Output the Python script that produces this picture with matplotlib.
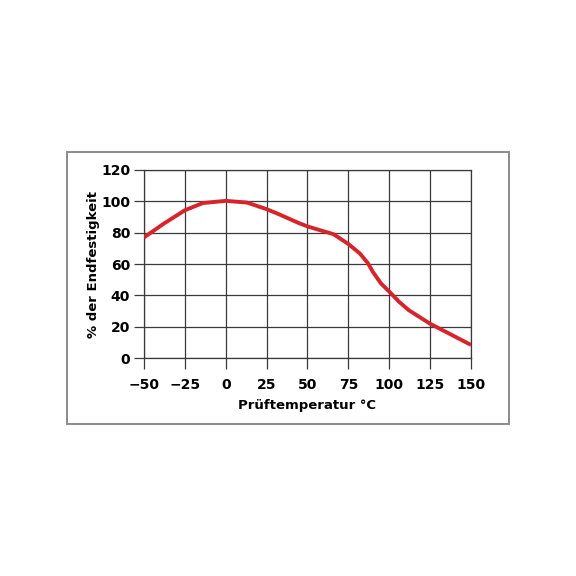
import matplotlib.pyplot as plt
from matplotlib.patches import Rectangle

# Festigkeit in Abhängigkeit der Prüftemperatur
temp = [-50, -38, -25, -14, 0, 13, 25, 32, 45, 50, 66, 75, 82, 87, 90, 95, 100, 106, 112, 125, 138, 150]
festigkeit = [77, 85.7, 94.3, 98.9, 100.3, 99.2, 95, 92, 86, 84, 79, 72.8, 66.8, 60.5, 55, 47.6, 42.5, 36, 30.6, 22, 15, 8.5]

x_ticks = [-50, -25, 0, 25, 50, 75, 100, 125, 150]
y_ticks = [0, 20, 40, 60, 80, 100, 120]

plt.rcParams['font.family'] = ['DejaVu Sans']
plt.rcParams['font.weight'] = 'bold'

fig = plt.figure(figsize=(5.76, 5.76), dpi=100)

# outer frame
fig.patches.append(Rectangle((0.1163, 0.264), 0.7674, 0.472, transform=fig.transFigure,
                             fill=False, edgecolor='#8a8a8a', linewidth=1.4))

ax = fig.add_axes([0.25, 0.378, 0.5677, 0.327])
ax.plot(temp, festigkeit, color='#d9232b', linewidth=2.8, solid_joinstyle='round',
        solid_capstyle='butt', zorder=3)

ax.set_xlim(-50, 150)
ax.set_ylim(0, 120)
ax.set_xticks(x_ticks)
ax.set_yticks(y_ticks)
ax.grid(True, color='#3a3a3a', linewidth=0.9)
for s in ax.spines.values():
    s.set_color('#3a3a3a')
    s.set_linewidth(0.9)
ax.tick_params(axis='x', length=8, width=0.9, color='#3a3a3a', pad=6, labelsize=10)
ax.tick_params(axis='y', length=7, width=0.9, color='#3a3a3a', pad=3, labelsize=10)

ax.set_xlabel('Prüftemperatur °C', fontsize=9.5, fontweight='bold')
ax.set_ylabel('% der Endfestigkeit', fontsize=9.5, fontweight='bold')
ax.xaxis.set_label_coords(0.5, -0.215)
ax.yaxis.set_label_coords(-0.135, 0.5)

fig.savefig('out.png', dpi=100)
